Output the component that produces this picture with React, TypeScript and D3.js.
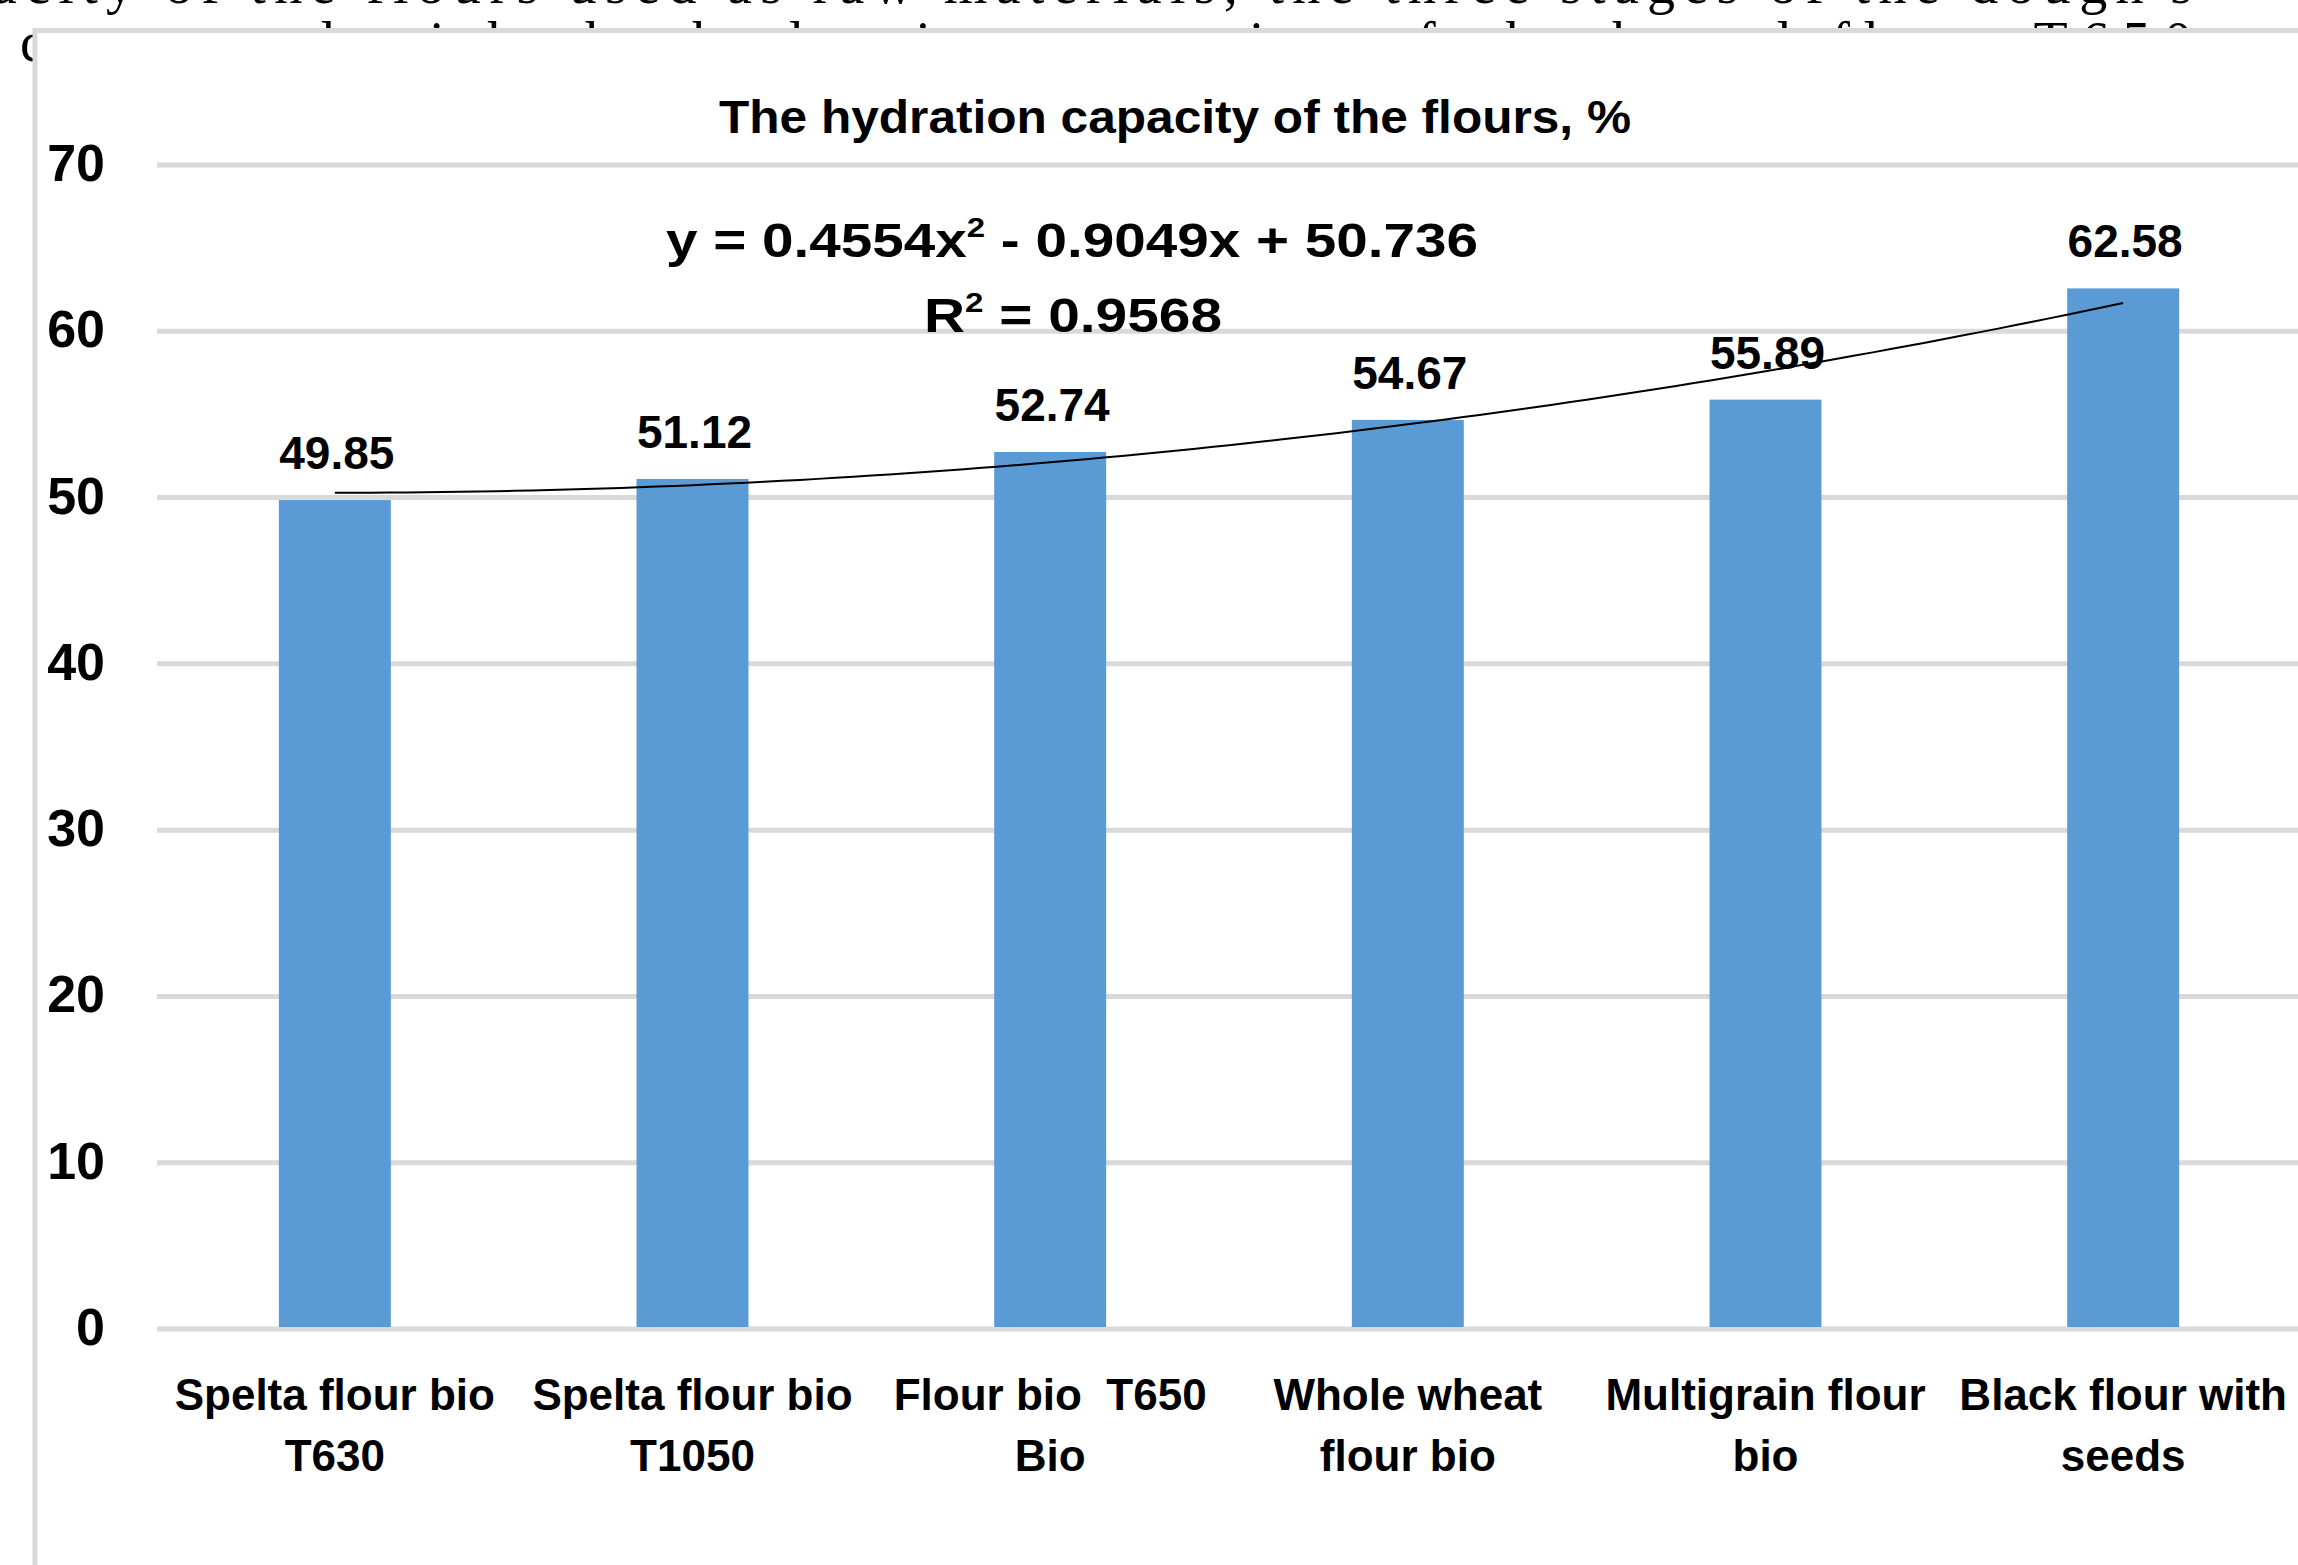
import React from "react";
import * as d3 from "d3";

const categories = ["c1", "c2", "c3", "c4", "c5", "c6"];
const categoryLabels: string[][] = [
  ["Spelta flour bio", "T630"],
  ["Spelta flour bio", "T1050"],
  ["Flour bio  T650", "Bio"],
  ["Whole wheat", "flour bio"],
  ["Multigrain flour", "bio"],
  ["Black flour with", "seeds"],
];
const values = [49.85, 51.12, 52.74, 54.67, 55.89, 62.58];
const yTicks = [0, 10, 20, 30, 40, 50, 60, 70];
const trendCoef = [0.4554, -0.9049, 50.736]; // a x^2 + b x + c
const titleText = "The hydration capacity of the flours, %";
const eqParts = ["y = 0.4554x", "2", " - 0.9049x + 50.736"];
const r2Parts = ["R", "2", " = 0.9568"];
const pageLines = [
  "acity of the flours used as raw materials, the three stages of the dough's",
  "compared with the hydration capacity of the bread flour T650",
];

const W = 2298;
const H = 1565;
const FONT = "'Liberation Sans', Arial, sans-serif";

export default function App() {
  const x = d3.scaleBand<string>().domain(categories).range([156, 2302]).padding(0);
  const y = d3.scaleLinear().domain([0, 70]).range([1329, 165]);
  const bw = x.bandwidth();
  const barW = bw * 0.313;
  const cx = (c: string) => (x(c) as number) + bw / 2;

  const tX = d3.scaleLinear().domain([1, 6]).range([cx(categories[0]), cx(categories[5])]);
  const ts = d3.range(1, 6.0001, 0.05);
  const trend = d3
    .line<number>()
    .x((t) => tX(t))
    .y((t) => y(trendCoef[0] * t * t + trendCoef[1] * t + trendCoef[2]))(ts);

  return (
    <svg
      width={W}
      height={H}
      style={{ position: "absolute", left: 0, top: 0, background: "#fff" }}
      fontFamily={FONT}
    >
      {/* page text behind the chart */}
      <g fontFamily="'Liberation Serif', 'Times New Roman', serif" fontSize={56} fill="#000">
        <text x={-8} y={3} textLength={2200} lengthAdjust="spacing">
          {pageLines[0]}
        </text>
        <text x={20} y={61} textLength={2172} lengthAdjust="spacing">
          {pageLines[1]}
        </text>
      </g>

      {/* chart area with frame */}
      <rect x={35} y={30.5} width={W + 20} height={H + 20} fill="#fff" stroke="#d9d9d9" strokeWidth={5} />

      {/* gridlines */}
      {yTicks.map((t) => (
        <line key={"g" + t} x1={157} x2={W + 10} y1={y(t)} y2={y(t)} stroke="#d9d9d9" strokeWidth={5} />
      ))}

      {/* y tick labels */}
      {yTicks.map((t) => (
        <text key={"t" + t} x={105} y={y(t) + 16} textAnchor="end" fontSize={52} fontWeight="bold" fill="#000">
          {t}
        </text>
      ))}

      {/* bars */}
      {categories.map((c, i) => (
        <rect
          key={"b" + c}
          x={cx(c) - barW / 2}
          y={y(values[i])}
          width={barW}
          height={y(0) - y(values[i]) - 2}
          fill="#5b9bd5"
        />
      ))}

      {/* trendline */}
      <path d={trend ?? ""} fill="none" stroke="#000" strokeWidth={2} />

      {/* value labels */}
      {categories.map((c, i) => (
        <text
          key={"v" + c}
          x={cx(c) + 2}
          y={y(values[i]) - 31}
          textAnchor="middle"
          fontSize={46}
          fontWeight="bold"
          fill="#000"
        >
          {values[i].toFixed(2)}
        </text>
      ))}

      {/* x labels */}
      {categories.map((c, i) => (
        <text
          key={"x" + c}
          textAnchor="middle"
          fontSize={44}
          fontWeight="bold"
          fill="#000"
          style={{ whiteSpace: "pre" }}
        >
          <tspan x={cx(c)} y={1410}>
            {categoryLabels[i][0]}
          </tspan>
          <tspan x={cx(c)} y={1471}>
            {categoryLabels[i][1]}
          </tspan>
        </text>
      ))}

      {/* title */}
      <text
        x={1175}
        y={133}
        textAnchor="middle"
        fontSize={46}
        fontWeight="bold"
        textLength={912}
        lengthAdjust="spacingAndGlyphs"
        fill="#000"
      >
        {titleText}
      </text>

      {/* equation */}
      <text
        x={1072}
        y={257}
        textAnchor="middle"
        fontSize={48}
        fontWeight="bold"
        textLength={812}
        lengthAdjust="spacingAndGlyphs"
        fill="#000"
      >
        {eqParts[0]}
        <tspan fontSize={28} dy={-20}>
          {eqParts[1]}
        </tspan>
        <tspan dy={20}>{eqParts[2]}</tspan>
      </text>
      <text
        x={1073}
        y={332}
        textAnchor="middle"
        fontSize={48}
        fontWeight="bold"
        textLength={298}
        lengthAdjust="spacingAndGlyphs"
        fill="#000"
      >
        {r2Parts[0]}
        <tspan fontSize={28} dy={-20}>
          {r2Parts[1]}
        </tspan>
        <tspan dy={20}>{r2Parts[2]}</tspan>
      </text>
    </svg>
  );
}
